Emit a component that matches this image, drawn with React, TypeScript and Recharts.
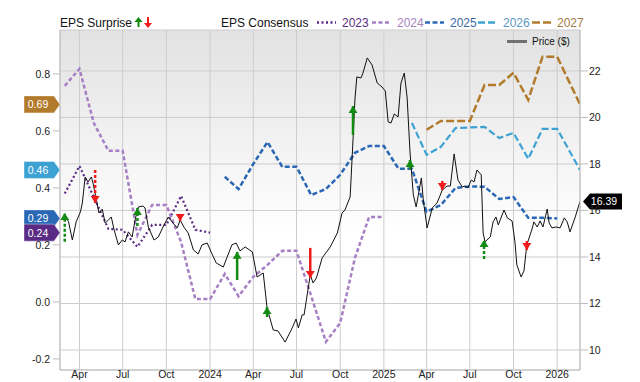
import React from 'react';
import {
    ComposedChart,
    Line,
    XAxis,
    YAxis,
    CartesianGrid,
    ReferenceDot,
    ReferenceLine,
} from 'recharts';

// x range and ticks
const xStart = '2023-02-19';
const xEnd = '2026-02-18';
const quarterTicks = [
    '2023-04-01', '2023-07-01', '2023-10-01', '2024-01-01', '2024-04-01', '2024-07-01',
    '2024-10-01', '2025-01-01', '2025-04-01', '2025-07-01', '2025-10-01', '2026-01-01',
];
const monthNames = ['Jan', 'Feb', 'Mar', 'Apr', 'May', 'Jun', 'Jul', 'Aug', 'Sep', 'Oct', 'Nov', 'Dec'];
const epsTicks = [-0.2, 0, 0.2, 0.4, 0.6, 0.8];
const priceTicks = [10, 12, 14, 16, 18, 20, 22];

// EPS consensus by fiscal year
const fy2023Dates = ['2023-03-01', '2023-04-01', '2023-06-01', '2023-07-01', '2023-08-01', '2023-09-01', '2023-10-01', '2023-11-01', '2023-12-01', '2024-01-01'];
const fy2023Eps = [0.38, 0.477, 0.256, 0.253, 0.193, 0.27, 0.27, 0.372, 0.253, 0.243];

const fy2024Dates = [
    '2023-03-01', '2023-04-01', '2023-05-01', '2023-06-01', '2023-07-01', '2023-08-01', '2023-09-01', '2023-10-01',
    '2023-11-01', '2023-12-01', '2024-01-01', '2024-02-01', '2024-03-01', '2024-04-01', '2024-05-01', '2024-06-01',
    '2024-07-01', '2024-08-01', '2024-09-01', '2024-10-01', '2024-11-01', '2024-12-01', '2025-01-01',
];
const fy2024Eps = [
    0.758, 0.818, 0.628, 0.53, 0.53, 0.235, 0.34, 0.34,
    0.21, 0.01, 0.01, 0.098, 0.02, 0.088, 0.13, 0.179,
    0.179, 0.02, -0.14, -0.074, 0.154, 0.298, 0.298,
];

const fy2025Dates = [
    '2024-02-01', '2024-03-01', '2024-04-01', '2024-05-01', '2024-06-01', '2024-07-01', '2024-08-01', '2024-09-01',
    '2024-10-01', '2024-11-01', '2024-12-01', '2025-01-01', '2025-02-01', '2025-03-01', '2025-04-01', '2025-05-01',
    '2025-06-01', '2025-07-01', '2025-08-01', '2025-09-01', '2025-10-01', '2025-11-01', '2025-12-01', '2026-01-01',
];
const fy2025Eps = [
    0.439, 0.396, 0.484, 0.561, 0.474, 0.474, 0.375, 0.396,
    0.446, 0.523, 0.547, 0.547, 0.467, 0.467, 0.316, 0.34,
    0.40, 0.405, 0.404, 0.361, 0.368, 0.295, 0.295, 0.293,
];

const fy2026Dates = [
    '2025-03-01', '2025-04-01', '2025-05-01', '2025-06-01', '2025-07-01', '2025-08-01',
    '2025-09-01', '2025-10-01', '2025-11-01', '2025-12-01', '2026-01-01', '2026-02-18',
];
const fy2026Eps = [0.628, 0.516, 0.544, 0.61, 0.612, 0.614, 0.575, 0.593, 0.502, 0.607, 0.607, 0.463];

const fy2027Dates = [
    '2025-04-01', '2025-05-01', '2025-06-01', '2025-07-01', '2025-08-01', '2025-09-01',
    '2025-10-01', '2025-11-01', '2025-12-01', '2026-01-01', '2026-02-18',
];
const fy2027Eps = [0.604, 0.635, 0.635, 0.635, 0.761, 0.761, 0.804, 0.709, 0.86, 0.86, 0.693];

// share price
const priceDates = [
    '2023-03-01', '2023-03-09', '2023-03-17', '2023-03-25', '2023-04-03', '2023-04-07', '2023-04-13', '2023-04-19',
    '2023-04-26', '2023-04-30', '2023-05-08', '2023-05-12', '2023-05-19', '2023-05-25', '2023-06-01', '2023-06-07',
    '2023-06-13', '2023-06-22', '2023-06-30', '2023-07-06', '2023-07-13', '2023-07-21', '2023-07-27', '2023-08-03',
    '2023-08-13', '2023-08-17', '2023-08-24', '2023-09-05', '2023-09-14', '2023-09-24', '2023-10-05', '2023-10-15',
    '2023-10-24', '2023-10-30', '2023-11-08', '2023-11-16', '2023-11-27', '2023-12-07', '2023-12-15', '2023-12-26',
    '2024-01-06', '2024-01-14', '2024-01-29', '2024-02-06', '2024-02-16', '2024-02-25', '2024-03-04', '2024-03-15',
    '2024-03-30', '2024-04-09', '2024-04-22', '2024-04-30', '2024-05-13', '2024-05-23', '2024-06-07', '2024-06-22',
    '2024-06-30', '2024-07-05', '2024-07-13', '2024-07-17', '2024-07-30', '2024-08-05', '2024-08-12', '2024-08-24',
    '2024-09-10', '2024-09-25', '2024-10-05', '2024-10-11', '2024-10-22', '2024-10-28', '2024-11-01', '2024-11-05',
    '2024-11-14', '2024-11-18', '2024-11-27', '2024-12-07', '2024-12-18', '2024-12-28', '2025-01-04', '2025-01-10',
    '2025-01-16', '2025-01-23', '2025-01-31', '2025-02-06', '2025-02-13', '2025-02-19', '2025-02-25', '2025-03-04',
    '2025-03-10', '2025-03-21', '2025-03-25', '2025-04-02', '2025-04-13', '2025-04-23', '2025-05-04', '2025-05-14',
    '2025-05-21', '2025-05-29', '2025-06-06', '2025-06-15', '2025-06-21', '2025-06-27', '2025-07-04', '2025-07-10',
    '2025-07-16', '2025-07-25', '2025-07-29', '2025-08-02', '2025-08-13', '2025-08-19', '2025-08-25', '2025-08-30',
    '2025-09-11', '2025-09-18', '2025-09-28', '2025-10-04', '2025-10-08', '2025-10-17', '2025-10-23', '2025-10-29',
    '2025-11-09', '2025-11-13', '2025-11-20', '2025-11-26', '2025-12-02', '2025-12-11', '2025-12-15', '2025-12-21',
    '2025-12-30', '2026-01-07', '2026-01-16', '2026-01-22', '2026-01-28', '2026-02-08', '2026-02-18',
];
const priceValues = [
    15.81, 15.51, 14.73, 15.51, 15.94, 16.32, 17.44, 17.23,
    17.44, 17.14, 16.32, 15.89, 16.06, 15.46, 15.59, 15.72,
    15.16, 14.52, 14.73, 14.65, 15.08, 14.86, 15.59, 16.15,
    16.19, 16.11, 15.29, 14.73, 14.86, 15.29, 15.72, 15.46,
    15.25, 15.59, 15.25, 15.03, 14.30, 14.13, 14.52, 14.60,
    14.09, 13.74, 13.57, 14.00, 14.52, 14.60, 14.26, 14.43,
    14.22, 13.14, 13.31, 11.81, 10.86, 10.82, 10.34, 10.95,
    11.33, 10.95, 11.51, 11.51, 13.23, 12.88, 13.10, 13.96,
    14.43, 15.03, 15.89, 16.02, 16.58, 19.03, 20.75, 21.74,
    21.70, 21.91, 22.56, 22.26, 21.48, 21.31, 21.14, 19.81,
    19.76, 20.15, 20.02, 21.48, 21.91, 20.84, 18.52, 16.67,
    16.15, 17.40, 16.45, 15.25, 16.11, 16.32, 16.88, 17.05,
    17.05, 18.43, 17.31, 17.01, 17.05, 16.97, 17.31, 17.23,
    17.74, 17.53, 15.03, 14.65, 14.86, 15.51, 15.72, 15.38,
    16.02, 15.68, 15.55, 14.65, 13.66, 13.14, 13.40, 14.52,
    15.20, 15.51, 15.29, 15.55, 15.29, 16.06, 15.46, 15.25,
    15.29, 15.25, 15.68, 15.51, 15.08, 15.72, 16.39,
];

// EPS surprises, drawn on the price scale (tail -> tip)
const surpriseDates = [
    '2023-03-01', '2023-05-04', '2023-08-01', '2023-10-30', '2024-02-27', '2024-04-30',
    '2024-07-30', '2024-10-28', '2025-02-25', '2025-05-04', '2025-07-31', '2025-10-29',
];
const surpriseTips = [15.89, 16.32, 16.11, 15.55, 14.22, 11.85, 13.10, 20.49, 18.17, 16.88, 14.73, 14.30];
const surpriseTails = [14.65, 17.74, 15.33, 15.85, 13.01, 11.42, 14.39, 19.25, 17.78, 17.27, 13.91, 14.69];
const dashedStems = [0, 1, 2, 10];

const GREEN = '#138a13';
const RED = '#f01c1c';
const FONT = '"Liberation Sans", Arial, sans-serif';

const colors = {
    fy2023: '#5a2a85',
    fy2024: '#a77fc4',
    fy2025: '#2a68b5',
    fy2026: '#3da2d3',
    fy2027: '#b27b2c',
};

const ts = (d: string) => Date.UTC(+d.slice(0, 4), +d.slice(5, 7) - 1, +d.slice(8, 10));
const toSeries = (dates: string[], values: number[]) => dates.map((d, i) => ({ t: ts(d), v: values[i] }));

const fy2023 = toSeries(fy2023Dates, fy2023Eps);
const fy2024 = toSeries(fy2024Dates, fy2024Eps);
const fy2025 = toSeries(fy2025Dates, fy2025Eps);
const fy2026 = toSeries(fy2026Dates, fy2026Eps);
const fy2027 = toSeries(fy2027Dates, fy2027Eps);
const price = toSeries(priceDates, priceValues);

const xTickFormat = (v: number) => {
    const d = new Date(v);
    const m = d.getUTCMonth();
    return m === 0 ? String(d.getUTCFullYear()) : monthNames[m];
};

const leftFlag = (label: string, color: string) => (props: any) => {
    const { cx, cy } = props;
    const pts = `${cx - 36},${cy - 8.5} ${cx - 6},${cy - 8.5} ${cx},${cy} ${cx - 6},${cy + 8.5} ${cx - 36},${cy + 8.5}`;
    return (
        <g>
            <polygon points={pts} fill={color} stroke="rgba(255,255,255,0.5)" strokeWidth={0.8} />
            <text x={cx - 22} y={cy + 4} textAnchor="middle" fill="#fff" fontSize={10.5} fontFamily={FONT}>
                {label}
            </text>
        </g>
    );
};

const rightFlag = (label: string) => (props: any) => {
    const { cx, cy } = props;
    const pts = `${cx + 3},${cy} ${cx + 10},${cy - 8} ${cx + 42},${cy - 8} ${cx + 42},${cy + 8} ${cx + 10},${cy + 8}`;
    return (
        <g>
            <polygon points={pts} fill="#000" />
            <text x={cx + 24} y={cy + 4} textAnchor="middle" fill="#fff" fontSize={10.5} fontFamily={FONT}>
                {label}
            </text>
        </g>
    );
};

const arrowHead = (up: boolean, color: string) => (props: any) => {
    const { cx, cy } = props;
    const b = up ? cy + 7 : cy - 7;
    return <polygon points={`${cx},${cy} ${cx - 4.5},${b} ${cx + 4.5},${b}`} fill={color} />;
};

const Legend = () => {
    const item = (x: number, color: string, dash: string, label: string, textColor: string) => (
        <g>
            <line x1={x} y1={22.5} x2={x + 19} y2={22.5} stroke={color} strokeWidth={2.5} strokeDasharray={dash} />
            <text x={x + 25} y={27} fontSize={12} fill={textColor} fontFamily={FONT}>{label}</text>
        </g>
    );
    return (
        <svg width={640} height={60} style={{ position: 'absolute', left: 0, top: 0, pointerEvents: 'none' }}>
            <text x={60} y={27} fontSize={12} fill="#111" fontFamily={FONT}>EPS Surprise</text>
            <line x1={138.5} y1={27} x2={138.5} y2={21} stroke={GREEN} strokeWidth={2} />
            <polygon points="138.5,17 134.5,22 142.5,22" fill={GREEN} />
            <line x1={148} y1={17} x2={148} y2={23} stroke={RED} strokeWidth={2} />
            <polygon points="148,28 144,23 152,23" fill={RED} />
            <text x={221} y={27} fontSize={12} fill="#111" fontFamily={FONT}>EPS Consensus</text>
            {item(317, colors.fy2023, '2 2.5', '2023', '#5a2d7e')}
            {item(372, colors.fy2024, '4 2.5', '2024', '#a485bf')}
            {item(425, colors.fy2025, '5 2.5', '2025', '#3c69a6')}
            {item(478, colors.fy2026, '7 3', '2026', '#5b98c0')}
            {item(532, colors.fy2027, '8 3', '2027', '#a27a48')}
            <line x1={507} y1={41.5} x2={527} y2={41.5} stroke="#707070" strokeWidth={3} />
            <text x={532} y={45} fontSize={10} fill="#111" fontFamily={FONT}>Price ($)</text>
        </svg>
    );
};

export default function App() {
    return (
        <div style={{ position: 'absolute', left: 0, top: 0, width: 640, height: 382, background: '#fff', fontFamily: FONT }}>
            <ComposedChart width={640} height={382} margin={{ top: 30, right: 0, bottom: 0, left: 0 }}>
                <defs>
                    <linearGradient id="plotBg" x1="0" y1="0" x2="0" y2="1">
                        <stop offset="0%" stopColor="#e2e2e2" />
                        <stop offset="60%" stopColor="#ffffff" />
                        <stop offset="100%" stopColor="#ffffff" />
                    </linearGradient>
                </defs>
                <CartesianGrid yAxisId="price" stroke="#cdcdcd" fill="url(#plotBg)" />
                <XAxis
                    dataKey="t"
                    type="number"
                    domain={[ts(xStart), ts(xEnd)]}
                    allowDataOverflow
                    ticks={quarterTicks.map(ts)}
                    tickFormatter={xTickFormat}
                    height={12}
                    tickSize={0}
                    tickMargin={1}
                    tick={{ fontSize: 10.5, fill: '#222', fontFamily: FONT }}
                    axisLine={{ stroke: '#bdbdbd' }}
                />
                <YAxis
                    yAxisId="eps"
                    orientation="left"
                    width={60}
                    domain={[-0.239, 0.954]}
                    allowDataOverflow
                    ticks={epsTicks}
                    tickFormatter={(v: number) => v.toFixed(1)}
                    tickSize={7}
                    tickMargin={3}
                    tick={{ fontSize: 10.5, fill: '#222', fontFamily: FONT }}
                    tickLine={{ stroke: '#bdbdbd' }}
                    axisLine={{ stroke: '#bdbdbd' }}
                />
                <YAxis
                    yAxisId="price"
                    orientation="right"
                    width={60}
                    domain={[9.14, 23.76]}
                    allowDataOverflow
                    ticks={priceTicks}
                    tickSize={8}
                    tickMargin={1}
                    tick={{ fontSize: 10.5, fill: '#222', fontFamily: FONT }}
                    tickLine={{ stroke: '#bdbdbd' }}
                    axisLine={{ stroke: '#bdbdbd' }}
                />

                <Line yAxisId="eps" data={fy2023} dataKey="v" type="linear" stroke={colors.fy2023} strokeWidth={2.2} strokeDasharray="2 2.5" dot={false} isAnimationActive={false} />
                <Line yAxisId="eps" data={fy2024} dataKey="v" type="linear" stroke={colors.fy2024} strokeWidth={2.5} strokeDasharray="4 2.5" dot={false} isAnimationActive={false} />
                <Line yAxisId="eps" data={fy2025} dataKey="v" type="linear" stroke={colors.fy2025} strokeWidth={2.5} strokeDasharray="5 2.5" dot={false} isAnimationActive={false} />
                <Line yAxisId="eps" data={fy2026} dataKey="v" type="linear" stroke={colors.fy2026} strokeWidth={2.2} strokeDasharray="7 3" dot={false} isAnimationActive={false} />
                <Line yAxisId="eps" data={fy2027} dataKey="v" type="linear" stroke={colors.fy2027} strokeWidth={2.5} strokeDasharray="8 3" dot={false} isAnimationActive={false} />
                <Line yAxisId="price" data={price} dataKey="v" type="linear" stroke="#111" strokeWidth={1} dot={false} isAnimationActive={false} />

                {surpriseDates.map((d, i) => {
                    const up = surpriseTips[i] > surpriseTails[i];
                    return (
                        <ReferenceLine
                            key={`s${i}`}
                            yAxisId="price"
                            segment={[{ x: ts(d), y: surpriseTails[i] }, { x: ts(d), y: surpriseTips[i] }]}
                            stroke={up ? GREEN : RED}
                            strokeWidth={2.5}
                            strokeDasharray={dashedStems.includes(i) ? '3 2' : undefined}
                            ifOverflow="visible"
                        />
                    );
                })}
                {surpriseDates.map((d, i) => {
                    const up = surpriseTips[i] > surpriseTails[i];
                    return (
                        <ReferenceDot
                            key={`h${i}`}
                            yAxisId="price"
                            x={ts(d)}
                            y={surpriseTips[i]}
                            ifOverflow="visible"
                            shape={arrowHead(up, up ? GREEN : RED)}
                        />
                    );
                })}

                <ReferenceDot yAxisId="eps" x={ts(xStart)} y={fy2027Eps[fy2027Eps.length - 1]} ifOverflow="visible" shape={leftFlag(fy2027Eps[fy2027Eps.length - 1].toFixed(2), colors.fy2027)} />
                <ReferenceDot yAxisId="eps" x={ts(xStart)} y={fy2026Eps[fy2026Eps.length - 1]} ifOverflow="visible" shape={leftFlag(fy2026Eps[fy2026Eps.length - 1].toFixed(2), colors.fy2026)} />
                <ReferenceDot yAxisId="eps" x={ts(xStart)} y={fy2025Eps[fy2025Eps.length - 1]} ifOverflow="visible" shape={leftFlag(fy2025Eps[fy2025Eps.length - 1].toFixed(2), colors.fy2025)} />
                <ReferenceDot yAxisId="eps" x={ts(xStart)} y={fy2023Eps[fy2023Eps.length - 1]} ifOverflow="visible" shape={leftFlag(fy2023Eps[fy2023Eps.length - 1].toFixed(2), colors.fy2023)} />
                <ReferenceDot yAxisId="price" x={ts(xEnd)} y={priceValues[priceValues.length - 1]} ifOverflow="visible" shape={rightFlag(priceValues[priceValues.length - 1].toFixed(2))} />
            </ComposedChart>
            <Legend />
        </div>
    );
}
